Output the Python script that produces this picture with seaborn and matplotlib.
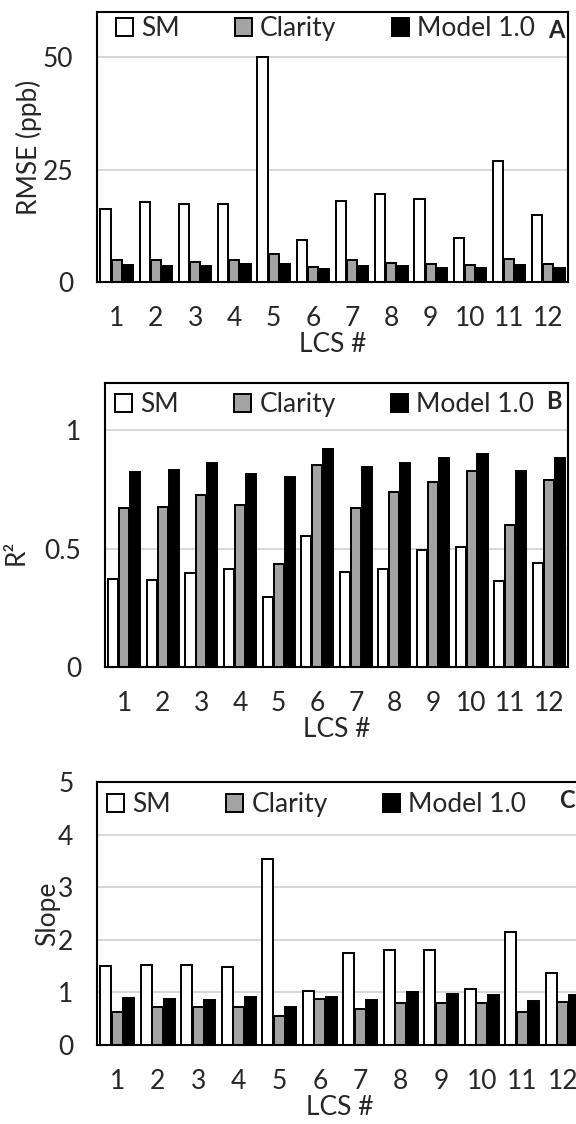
import numpy as np
import pandas as pd
import matplotlib
matplotlib.use('Agg')
import matplotlib.pyplot as plt
import seaborn as sns


lcs = [str(i) for i in range(1, 13)]
modele = ['SM', 'Clarity', 'Model 1.0']
kolory = ['white', '#a3a3a3', 'black']

# A - RMSE (ppb)
rmse_sm = [16.2, 17.8, 17.3, 17.3, 50.1, 9.4, 18.1, 19.6, 18.4, 9.7, 26.8, 15.0]
rmse_clarity = [4.8, 4.8, 4.5, 4.8, 6.2, 3.4, 4.8, 4.3, 4.0, 3.8, 5.2, 4.0]
rmse_model = [3.8, 3.5, 3.5, 4.0, 4.0, 2.9, 3.5, 3.5, 3.2, 3.2, 3.8, 3.2]

# B - R2
r2_sm = [0.373, 0.369, 0.397, 0.413, 0.296, 0.555, 0.401, 0.413, 0.494, 0.506, 0.365, 0.441]
r2_clarity = [0.670, 0.675, 0.725, 0.685, 0.435, 0.854, 0.670, 0.740, 0.783, 0.827, 0.599, 0.789]
r2_model = [0.823, 0.834, 0.861, 0.817, 0.801, 0.921, 0.845, 0.861, 0.882, 0.898, 0.828, 0.882]

# C - slope
slope_sm = [1.50, 1.53, 1.53, 1.48, 3.54, 1.02, 1.75, 1.80, 1.80, 1.06, 2.14, 1.36]
slope_clarity = [0.62, 0.72, 0.72, 0.72, 0.55, 0.87, 0.69, 0.80, 0.80, 0.80, 0.62, 0.82]
slope_model = [0.90, 0.87, 0.85, 0.92, 0.73, 0.92, 0.85, 1.00, 0.97, 0.95, 0.83, 0.95]


def dane_long(sm, cl, md):
    return pd.DataFrame({
        'LCS': lcs * 3,
        'model': np.repeat(modele, len(lcs)),
        'value': sm + cl + md,
    })


sns.set_style('white')
plt.rcParams['font.family'] = ['Lato', 'DejaVu Sans']
FS = 19

fig = plt.figure(figsize=(5.76, 11.24), dpi=100)

H = 1124.0
W = 576.0


def pozycja(l, r, t, b):
    return [l / W, 1 - b / H, (r - l) / W, (b - t) / H]


panele = [
    # dane, ylim, ticks, ylabel, litera, pozycja, label coords, legenda xy, litera x
    (dane_long(rmse_sm, rmse_clarity, rmse_model), 60, [0, 25, 50], 'RMSE (ppb)', 'A',
     pozycja(97, 568, 12, 282), (-0.117, 0.5), (0.040, 0.985), 0.993),
    (dane_long(r2_sm, r2_clarity, r2_model), 1.2, [0, 0.5, 1], 'R²', 'B',
     pozycja(105, 568, 383, 667), (-0.166, 0.405), (0.022, 0.968), 0.987),
    (dane_long(slope_sm, slope_clarity, slope_model), 5, [0, 1, 2, 3, 4, 5], 'Slope', 'C',
     pozycja(97, 583, 782, 1045), (-0.076, 0.5), (0.021, 0.962), 0.982),
]

for df, ymax, ticks, ylab, litera, pos, lab_xy, leg_xy, lit_x in panele:
    ax = fig.add_axes(pos)
    ax.set_axisbelow(True)
    ax.yaxis.grid(True, color='#cfcfcf', linewidth=1.2)
    sns.barplot(data=df, x='LCS', y='value', hue='model', palette=kolory,
                edgecolor='black', linewidth=1.4, width=0.85, gap=0.08,
                errorbar=None, ax=ax)
    ax.set_ylim(0, ymax)
    ax.set_yticks(ticks)
    ax.set_yticklabels([f'{t:g}' for t in ticks])
    ax.tick_params(axis='both', length=0, labelsize=FS)
    ax.tick_params(axis='y', pad=17)
    ax.tick_params(axis='x', pad=17)
    for s in ax.spines.values():
        s.set_visible(True)
        s.set_color('black')
        s.set_linewidth(1.5)
    ax.set_xlabel('LCS #', fontsize=FS, labelpad=1)
    ax.set_ylabel(ylab, fontsize=FS)
    ax.yaxis.set_label_coords(*lab_xy)

    uchwyty, etykiety = ax.get_legend_handles_labels()
    ax.legend(uchwyty, etykiety, ncol=3, loc='upper left',
              bbox_to_anchor=leg_xy, frameon=False, fontsize=FS,
              handlelength=0.65, handleheight=0.65, handletextpad=0.3,
              columnspacing=2.1, borderaxespad=0, borderpad=0)
    ax.text(lit_x, 0.975, litera, transform=ax.transAxes, ha='right', va='top',
            fontsize=17, fontweight='bold')

plt.savefig('out.png', dpi=100)
